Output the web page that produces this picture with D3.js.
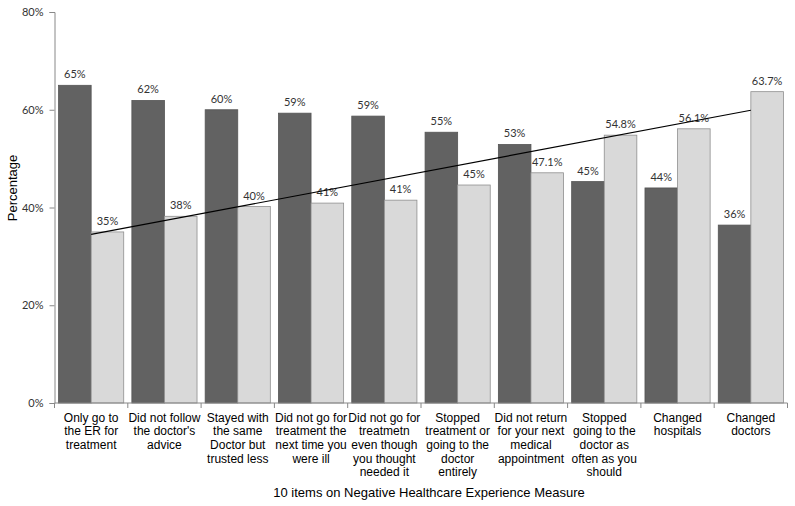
<!DOCTYPE html>
<html>
<head>
<meta charset="utf-8">
<script src="https://cdn.jsdelivr.net/npm/d3@7"></script>
<style>
  html, body { margin: 0; padding: 0; background: #fff; }
  svg { display: block; }
</style>
</head>
<body>
<svg id="chart" width="795" height="506"></svg>
<script>
const categories = [
  ["Only go to", "the ER for", "treatment"],
  ["Did not follow", "the doctor's", "advice"],
  ["Stayed with", "the same", "Doctor but", "trusted less"],
  ["Did not go for", "treatment the", "next time you", "were ill"],
  ["Did not go for", "treatmetn", "even though", "you thought", "needed it"],
  ["Stopped", "treatment or", "going to the", "doctor", "entirely"],
  ["Did not return", "for your next", "medical", "appointment"],
  ["Stopped", "going to the", "doctor as", "often as you", "should"],
  ["Changed", "hospitals"],
  ["Changed", "doctors"]
];
const darkValues = [65.0, 61.9, 60.0, 59.3, 58.7, 55.4, 52.9, 45.3, 44.0, 36.4];
const darkLabels = ["65%", "62%", "60%", "59%", "59%", "55%", "53%", "45%", "44%", "36%"];
const lightValues = [35.0, 38.2, 40.2, 40.9, 41.5, 44.6, 47.1, 54.8, 56.1, 63.7];
const lightLabels = ["35%", "38%", "40%", "41%", "41%", "45%", "47.1%", "54.8%", "56.1%", "63.7%"];
const trendValues = [34.5, 59.9]; // trend line at first and last category
const yTicks = [0, 20, 40, 60, 80];
const yTitle = "Percentage";
const xTitle = "10 items on Negative Healthcare Experience Measure";

const svg = d3.select("#chart");
const mLeft = 54.5, mRight = 787.5, mTop = 12, mBottom = 403;

const idx = d3.range(categories.length);
const x = d3.scaleBand().domain(idx).range([mLeft, mRight]).paddingInner(0).paddingOuter(0);
const inner = d3.scaleBand().domain([0, 1]).range([0, x.bandwidth()]).paddingInner(0).paddingOuter(0.125);
const y = d3.scaleLinear().domain([0, 80]).range([mBottom, mTop]);

const valueFont = "Lato, 'Open Sans', sans-serif";
const labelFont = "'Liberation Sans', Arial, sans-serif";

// bars
const g = svg.append("g");
g.selectAll("rect.dark").data(darkValues).enter().append("rect")
  .attr("class", "dark")
  .attr("x", (d, i) => x(i) + inner(0))
  .attr("y", d => y(d))
  .attr("width", inner.bandwidth())
  .attr("height", d => mBottom - y(d))
  .attr("fill", "#626262")
  .attr("stroke", "#555")
  .attr("stroke-width", 0.8);
g.selectAll("rect.light").data(lightValues).enter().append("rect")
  .attr("class", "light")
  .attr("x", (d, i) => x(i) + inner(1))
  .attr("y", d => y(d))
  .attr("width", inner.bandwidth())
  .attr("height", d => mBottom - y(d))
  .attr("fill", "#d9d9d9")
  .attr("stroke", "#8f8f8f")
  .attr("stroke-width", 0.8);

// value labels
g.selectAll("text.dl").data(darkValues).enter().append("text")
  .attr("x", (d, i) => x(i) + inner(0) + inner.bandwidth() / 2)
  .attr("y", d => y(d) - 7)
  .attr("text-anchor", "middle")
  .attr("font-family", valueFont)
  .attr("font-size", 11)
  .attr("fill", "#333")
  .text((d, i) => darkLabels[i]);
g.selectAll("text.ll").data(lightValues).enter().append("text")
  .attr("x", (d, i) => x(i) + inner(1) + inner.bandwidth() / 2)
  .attr("y", d => y(d) - 7)
  .attr("text-anchor", "middle")
  .attr("font-family", valueFont)
  .attr("font-size", 11)
  .attr("fill", "#333")
  .text((d, i) => lightLabels[i]);

// trend line
const n = categories.length;
const trendPts = [[0, trendValues[0]], [n - 1, trendValues[1]]];
svg.append("path")
  .attr("d", d3.line().x(d => x(d[0]) + x.bandwidth() / 2).y(d => y(d[1]))(trendPts))
  .attr("fill", "none")
  .attr("stroke", "#000")
  .attr("stroke-width", 1.2);

// y axis
const yAxis = svg.append("g").attr("transform", `translate(${mLeft},0)`)
  .call(d3.axisLeft(y).tickValues(yTicks).tickFormat(d => d + "%").tickSize(5).tickPadding(6));
yAxis.select(".domain").attr("stroke", "#888");
yAxis.selectAll(".tick line").attr("stroke", "#888");
yAxis.selectAll(".tick text").attr("font-family", valueFont).attr("font-size", 11).attr("fill", "#333");

// x axis
const xAxisG = svg.append("g").attr("transform", `translate(0,${mBottom})`);
xAxisG.append("line").attr("x1", mLeft).attr("x2", mRight).attr("y1", 0).attr("y2", 0).attr("stroke", "#888");
const tickPos = idx.map(i => x(i)).concat([mRight]);
xAxisG.selectAll("line.tk").data(tickPos).enter().append("line")
  .attr("x1", d => d).attr("x2", d => d).attr("y1", 0).attr("y2", 5).attr("stroke", "#888");

// category labels
const catG = svg.append("g");
categories.forEach((lines, i) => {
  const t = catG.append("text")
    .attr("x", x(i) + x.bandwidth() / 2)
    .attr("y", 421.5)
    .attr("text-anchor", "middle")
    .attr("font-family", labelFont)
    .attr("font-size", 12)
    .attr("fill", "#000");
  lines.forEach((ln, k) => {
    t.append("tspan").attr("x", x(i) + x.bandwidth() / 2).attr("dy", k === 0 ? 0 : 13.7).text(ln);
  });
});

// titles
svg.append("text")
  .attr("x", (mLeft + mRight) / 2 + 8)
  .attr("y", 497)
  .attr("text-anchor", "middle")
  .attr("font-family", labelFont)
  .attr("font-size", 13)
  .attr("fill", "#000")
  .text(xTitle);
svg.append("text")
  .attr("transform", "translate(17,188) rotate(-90)")
  .attr("text-anchor", "middle")
  .attr("font-family", labelFont)
  .attr("font-size", 13)
  .attr("fill", "#000")
  .text(yTitle);
</script>
</body>
</html>
